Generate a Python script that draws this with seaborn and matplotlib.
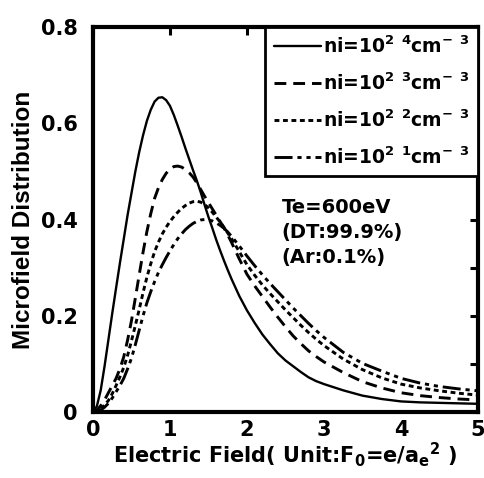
import numpy as np
import pandas as pd
import matplotlib
matplotlib.use("Agg")
import matplotlib.pyplot as plt
import seaborn as sns

# ---- data ----
field = [0, 0.05, 0.1, 0.15, 0.2, 0.25, 0.3, 0.35, 0.4, 0.45, 0.5, 0.55, 0.6, 0.65, 0.7,
         0.75, 0.8, 0.85, 0.9, 0.95, 1.0, 1.05, 1.1, 1.15, 1.2, 1.25, 1.3, 1.35, 1.4, 1.45,
         1.5, 1.55, 1.6, 1.65, 1.7, 1.75, 1.8, 1.9, 2.0, 2.1, 2.2, 2.3, 2.4, 2.5, 2.6, 2.7,
         2.8, 2.9, 3.0, 3.25, 3.5, 3.75, 4.0, 4.25, 4.5, 4.75, 5.0]
ni24 = [0, 0.012, 0.045, 0.095, 0.15, 0.205, 0.258, 0.31, 0.36, 0.41, 0.455, 0.5, 0.54,
        0.575, 0.605, 0.628, 0.645, 0.653, 0.654, 0.648, 0.636, 0.617, 0.595, 0.572, 0.548,
        0.525, 0.502, 0.48, 0.456, 0.43, 0.405, 0.382, 0.358, 0.336, 0.315, 0.295, 0.276,
        0.241, 0.211, 0.185, 0.161, 0.141, 0.122, 0.107, 0.095, 0.083, 0.072, 0.064, 0.058,
        0.045, 0.034, 0.027, 0.022, 0.02, 0.019, 0.018, 0.017]
ni23 = [0, 0.004, 0.013, 0.025, 0.04, 0.055, 0.07, 0.09, 0.115, 0.15, 0.19, 0.237, 0.285,
        0.332, 0.375, 0.412, 0.444, 0.466, 0.483, 0.496, 0.505, 0.51, 0.511, 0.509, 0.504,
        0.497, 0.488, 0.476, 0.462, 0.448, 0.435, 0.422, 0.409, 0.396, 0.383, 0.368, 0.352,
        0.318, 0.286, 0.262, 0.24, 0.218, 0.197, 0.177, 0.158, 0.142, 0.127, 0.115, 0.104,
        0.082, 0.063, 0.05, 0.04, 0.034, 0.03, 0.027, 0.025]
ni22 = [0, 0.002, 0.007, 0.014, 0.024, 0.038, 0.055, 0.073, 0.093, 0.118, 0.148, 0.18,
        0.213, 0.248, 0.28, 0.308, 0.333, 0.353, 0.37, 0.384, 0.396, 0.406, 0.415, 0.423,
        0.429, 0.434, 0.437, 0.438, 0.436, 0.431, 0.424, 0.415, 0.405, 0.395, 0.384, 0.372,
        0.36, 0.333, 0.306, 0.284, 0.264, 0.246, 0.229, 0.212, 0.196, 0.18, 0.165, 0.151,
        0.138, 0.11, 0.088, 0.071, 0.058, 0.05, 0.044, 0.039, 0.035]
ni21 = [0, 0.001, 0.004, 0.01, 0.018, 0.029, 0.042, 0.055, 0.07, 0.09, 0.112, 0.14, 0.17,
        0.2, 0.227, 0.25, 0.271, 0.29, 0.306, 0.321, 0.335, 0.348, 0.36, 0.37, 0.379, 0.386,
        0.392, 0.396, 0.399, 0.4, 0.399, 0.397, 0.393, 0.388, 0.382, 0.374, 0.365, 0.345,
        0.324, 0.304, 0.285, 0.267, 0.25, 0.233, 0.216, 0.2, 0.184, 0.169, 0.155, 0.124,
        0.101, 0.085, 0.07, 0.06, 0.053, 0.048, 0.044]
labels = [r"ni=10$^2$ $^4$cm$^{-}$ $^3$",
          r"ni=10$^2$ $^3$cm$^{-}$ $^3$",
          r"ni=10$^2$ $^2$cm$^{-}$ $^3$",
          r"ni=10$^2$ $^1$cm$^{-}$ $^3$"]
xticks = [0, 1, 2, 3, 4, 5]
yticks = [0, 0.1, 0.2, 0.3, 0.4, 0.5, 0.6, 0.7, 0.8]
ytick_labels = ["0", "", "0.2", "", "0.4", "", "0.6", "", "0.8"]
annotation = "Te=600eV\n(DT:99.9%)\n(Ar:0.1%)"

sns.set_style("white")
plt.rcParams["font.family"] = ["DejaVu Sans"]
plt.rcParams["font.weight"] = "bold"
plt.rcParams["text.color"] = "black"
plt.rcParams["axes.labelcolor"] = "black"
plt.rcParams["xtick.color"] = "black"
plt.rcParams["ytick.color"] = "black"
plt.rcParams["mathtext.fontset"] = "custom"
plt.rcParams["mathtext.rm"] = "DejaVu Sans:bold"
plt.rcParams["mathtext.it"] = "DejaVu Sans:bold"
plt.rcParams["mathtext.bf"] = "DejaVu Sans:bold"
plt.rcParams["mathtext.default"] = "rm"
plt.rcParams["lines.scale_dashes"] = False

fig = plt.figure(figsize=(4.85, 4.78), dpi=100)
ax = fig.add_axes([93/485, 1 - 412/478, (478 - 93)/485, (412 - 27)/478])

series = [ni24, ni23, ni22, ni21]
dashes = [None, (8.5, 5), (3.5, 2.6), (13, 3.5, 3, 3.5, 3, 3.5)]
widths = [1.7, 2.1, 2.1, 2.1]
for ys, lab, d, w in zip(series, labels, dashes, widths):
    df = pd.DataFrame({"field": field, "value": ys})
    sns.lineplot(data=df, x="field", y="value", ax=ax, color="black",
                 linewidth=w, label=lab, sort=False)
    ln = ax.lines[-1]
    ln.set_solid_joinstyle("round")
    if d is not None:
        ln.set_dashes(d)

ax.set_xlim(0, 5)
ax.set_ylim(0, 0.8)
ax.set_xticks(xticks)
ax.set_xticklabels([str(v) for v in xticks])
ax.set_yticks(yticks)
ax.set_yticklabels(ytick_labels)
ax.tick_params(direction="in", length=6, width=2.2, labelsize=15,
               top=True, right=True, colors="black")
ax.tick_params(axis="y", pad=11)
ax.tick_params(axis="x", pad=6)
for s in ax.spines.values():
    s.set_linewidth(3)
    s.set_color("black")

ax.set_xlabel(r"Electric Field( Unit:F$_0$=e/a$_e$$^2$ )", fontsize=15,
              fontweight="bold", labelpad=0, color="black")
ax.set_ylabel("Microfield Distribution", fontsize=17.5, fontweight="bold",
              family="Liberation Sans", labelpad=4, color="black")

leg = ax.legend(loc="upper right", bbox_to_anchor=(1.0, 1.0), borderaxespad=0,
                fontsize=13.5, handlelength=2.5, handletextpad=0.1,
                labelspacing=0.82, borderpad=0.45, fancybox=False, frameon=True)
leg.get_frame().set_edgecolor("black")
leg.get_frame().set_linewidth(2)
leg.get_frame().set_alpha(1)
for t in leg.get_texts():
    t.set_color("black")

ax.text(0.49, 0.555, annotation, transform=ax.transAxes, fontsize=14,
        fontweight="bold", va="top", ha="left", linespacing=1.4, color="black")

fig.savefig("out.png", dpi=100)
